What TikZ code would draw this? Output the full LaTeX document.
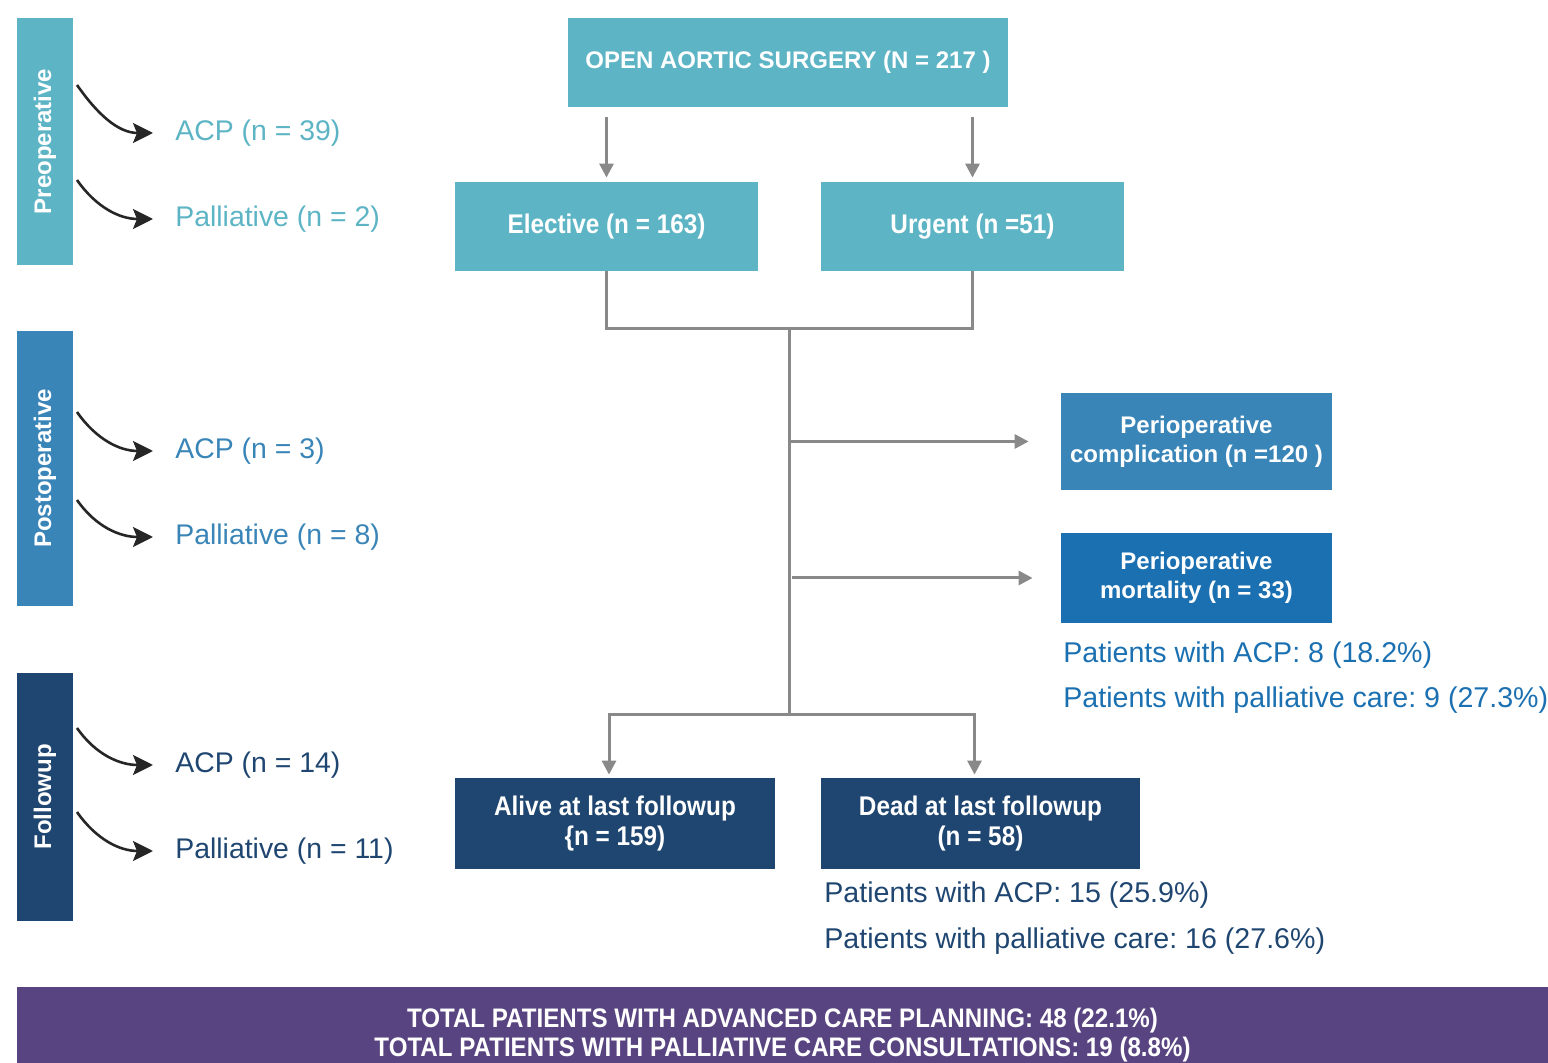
\documentclass[tikz,border=0pt]{standalone}
\usepackage{fontspec}
\setmainfont{Liberation Sans}
\newfontfamily\condfont[FakeStretch=0.9]{Liberation Sans}
\usetikzlibrary{arrows.meta}
\frenchspacing

\definecolor{cteal}{HTML}{5CB4C5}
\definecolor{cblue}{HTML}{3A85B8}
\definecolor{cdeep}{HTML}{1B70B1}
\definecolor{cnavy}{HTML}{1F4670}
\definecolor{cpurple}{HTML}{584480}
\definecolor{cline}{HTML}{898989}

\tikzset{
  sidebar/.style={inner sep=0pt, minimum width=28pt, text=white, font=\bfseries\fontsize{12}{12}\selectfont},
  mainbox/.style={inner sep=0pt, align=center, text=white, font=\bfseries\fontsize{12}{14.5}\selectfont},
  condbox/.style={inner sep=0pt, align=center, text=white, font=\condfont\bfseries\fontsize{13.5}{15}\selectfont},
  sidelab/.style={anchor=west, inner sep=0pt, yshift=-1pt, font=\fontsize{14.2}{14.2}\selectfont},
  note/.style={anchor=west, inner sep=0pt, yshift=-1pt, font=\fontsize{14.3}{14.3}\selectfont},
  flowarr/.style={-{Triangle[length=7pt,width=7pt]}, cline, line width=1.5pt},
  flowline/.style={cline, line width=1.5pt},
  bendarr/.style={-{Stealth[length=10pt,width=10pt,inset=2pt]}, black!85, line width=1.3pt}
}

\begin{document}
\begin{tikzpicture}[x=0.5pt,y=-0.5pt]
  \useasboundingbox (0,0) rectangle (1548,1063);

  % left column: phase bars with their counts
  \foreach \nm/\yc/\hgt/\col/\txt/\sa/\ya/\na/\sb/\yb/\nb in {
      pre/141.5/123.5/cteal/Preoperative/85/131/39/180/217/2,
      post/468.5/137.5/cblue/Postoperative/412/449/3/500/535/8,
      fol/797/124/cnavy/Followup/728/763/14/812/849/11} {
    \node[sidebar, fill=\col, minimum height=\hgt pt] (\nm) at (45,\yc) {\rotatebox{90}{\txt}};
    \coordinate (\nm A) at (77,\sa);
    \coordinate (\nm B) at (77,\sb);
    \node[sidelab, text=\col] (\nm acp) at (175,\ya) {ACP (n = \na)};
    \node[sidelab, text=\col] (\nm pal) at (175,\yb) {Palliative (n = \nb)};
    \draw[bendarr] (\nm A) to[out=-55,in=180] ([xshift=-11pt]\nm acp.west);
    \draw[bendarr] (\nm B) to[out=-55,in=180] ([xshift=-11pt]\nm pal.west);
  }

  % flow boxes
  \node[mainbox, fill=cteal, minimum width=220pt, minimum height=44.5pt] (top) at (788,62.5) {OPEN AORTIC SURGERY (N = 217 )};
  \node[condbox, fill=cteal, minimum width=151.5pt, minimum height=44.5pt] (elect) at (606.5,226.5) {Elective (n = 163)};
  \node[condbox, fill=cteal, minimum width=151.5pt, minimum height=44.5pt] (urg) at (972.5,226.5) {Urgent (n =51)};
  \node[mainbox, fill=cblue, minimum width=135.5pt, minimum height=48.5pt] (compl) at (1196.5,441.5) {Perioperative\\complication (n =120 )};
  \node[mainbox, fill=cdeep, minimum width=135.5pt, minimum height=45pt] (mort) at (1196.5,578) {Perioperative\\mortality (n = 33)};
  \node[condbox, fill=cnavy, minimum width=160pt, minimum height=45.5pt] (alive) at (615,823.5) {Alive at last followup\\\{n = 159)};
  \node[condbox, fill=cnavy, minimum width=159.5pt, minimum height=45.5pt] (dead) at (980.5,823.5) {Dead at last followup\\(n = 58)};
  \node[condbox, fill=cpurple, minimum width=765.5pt, minimum height=48.5pt, font=\condfont\bfseries\fontsize{13.4}{14.5}\selectfont] (total) at (782.5,1035.5)
    {TOTAL PATIENTS WITH ADVANCED CARE PLANNING: 48 (22.1\%)\\TOTAL PATIENTS WITH PALLIATIVE CARE CONSULTATIONS: 19 (8.8\%)};

  % notes under boxes
  \node[note, text=cdeep] (mortacp) at (1063,653) {Patients with ACP: 8 (18.2\%)};
  \node[note, text=cdeep] (mortpal) at (1063,698) {Patients with palliative care: 9 (27.3\%)};
  \node[note, text=cnavy] (deadacp) at (824,893) {Patients with ACP: 15 (25.9\%)};
  \node[note, text=cnavy] (deadpal) at (824,939) {Patients with palliative care: 16 (27.6\%)};

  % connectors
  \coordinate (join) at (789,329);
  \coordinate (split) at (789,715);
  \draw[flowarr, shorten <=5pt, shorten >=2pt] (top.south -| elect.north) -- (elect.north);
  \draw[flowarr, shorten <=5pt, shorten >=2pt] (top.south -| urg.north) -- (urg.north);
  \draw[flowline] (elect.south) |- (join -| urg.south) -- (urg.south);
  \draw[flowline] (join) -- (split);
  \draw[flowarr, shorten >=16pt] (join |- compl.west) -- (compl.west);
  \draw[flowarr, shorten <=1.5pt, shorten >=14pt] (join |- mort.west) -- (mort.west);
  \draw[flowarr, shorten >=1.5pt] (split) -| ([xshift=-3pt]alive.north);
  \draw[flowarr, shorten >=1.5pt] (split) -| ([xshift=-3pt]dead.north);
\end{tikzpicture}
\end{document}
